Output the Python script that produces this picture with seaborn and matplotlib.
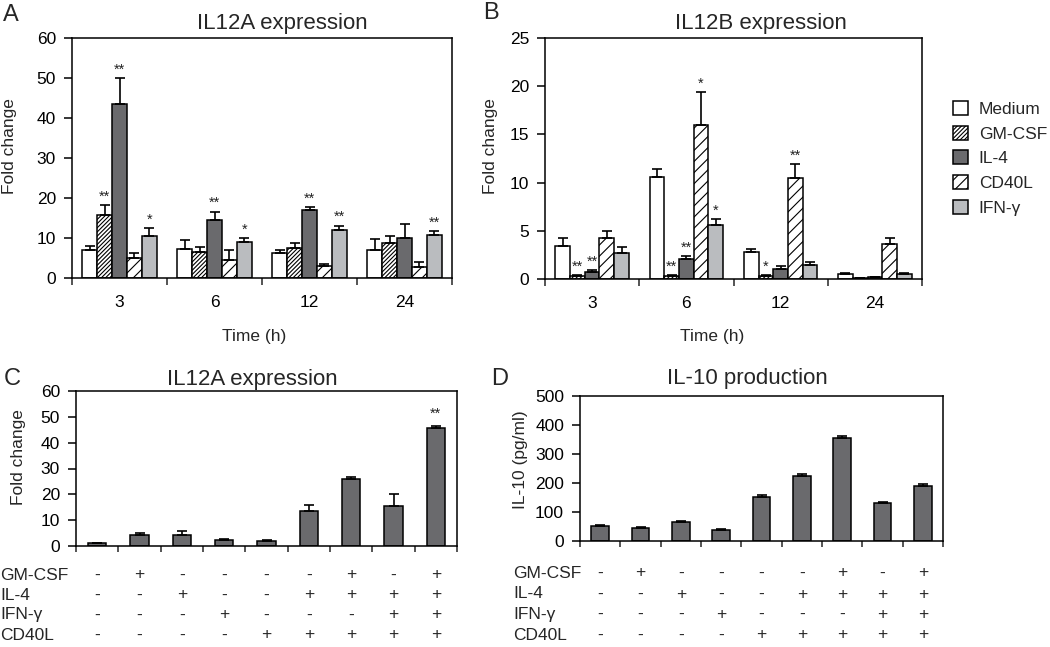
import numpy as np
import pandas as pd
import matplotlib
matplotlib.use("Agg")
import matplotlib.pyplot as plt
import seaborn as sns
from matplotlib.patches import Patch
from matplotlib.transforms import blended_transform_factory

# ---------------- data ----------------
treatments = ["Medium", "GM-CSF", "IL-4", "CD40L", "IFN-γ"]
times = ["3", "6", "12", "24"]

# Panel A: IL12A expression (one list per treatment, over time)
a_medium = [7.0, 7.2, 6.2, 7.1]
a_gmcsf = [15.8, 6.6, 7.4, 8.8]
a_il4 = [43.5, 14.4, 16.9, 10.0]
a_cd40l = [5.1, 4.6, 3.1, 2.7]
a_ifng = [10.4, 9.0, 12.0, 10.8]
a_err_medium = [1.0, 2.4, 0.8, 2.6]
a_err_gmcsf = [2.5, 1.2, 1.4, 1.8]
a_err_il4 = [6.5, 2.2, 0.8, 3.6]
a_err_cd40l = [1.1, 2.3, 0.4, 1.3]
a_err_ifng = [2.1, 1.0, 1.1, 0.9]
a_stars = {("GM-CSF", "3"): "**", ("IL-4", "3"): "**", ("IFN-γ", "3"): "*",
           ("IL-4", "6"): "**", ("IFN-γ", "6"): "*",
           ("IL-4", "12"): "**", ("IFN-γ", "12"): "**",
           ("IFN-γ", "24"): "**"}

# Panel B: IL12B expression
b_medium = [3.4, 10.6, 2.8, 0.5]
b_gmcsf = [0.35, 0.35, 0.35, 0.08]
b_il4 = [0.75, 2.1, 1.0, 0.2]
b_cd40l = [4.3, 16.0, 10.5, 3.6]
b_ifng = [2.7, 5.6, 1.5, 0.5]
b_err_medium = [0.9, 0.8, 0.35, 0.12]
b_err_gmcsf = [0.05, 0.05, 0.05, 0.02]
b_err_il4 = [0.15, 0.25, 0.3, 0.05]
b_err_cd40l = [0.7, 3.4, 1.4, 0.7]
b_err_ifng = [0.6, 0.6, 0.3, 0.12]
b_stars = {("GM-CSF", "3"): "**", ("IL-4", "3"): "**",
           ("GM-CSF", "6"): "**", ("IL-4", "6"): "**", ("CD40L", "6"): "*", ("IFN-γ", "6"): "*",
           ("GM-CSF", "12"): "*", ("CD40L", "12"): "**"}

# Panels C and D: stimulus combinations
conditions = ["c1", "c2", "c3", "c4", "c5", "c6", "c7", "c8", "c9"]
c_values = [1.0, 4.3, 4.4, 2.2, 1.9, 13.6, 25.9, 15.6, 45.5]
c_err = [0.3, 0.6, 1.3, 0.4, 0.5, 2.4, 1.0, 4.4, 0.8]
c_stars = ["", "", "", "", "", "", "", "", "**"]
d_values = [51, 45, 65, 37, 153, 224, 355, 131, 190]
d_err = [3, 5, 5, 3, 6, 8, 6, 3, 6]

row_labels = ["GM-CSF", "IL-4", "IFN-γ", "CD40L"]
row_gmcsf = ["-", "+", "-", "-", "-", "-", "+", "-", "+"]
row_il4 = ["-", "-", "+", "-", "-", "+", "+", "+", "+"]
row_ifng = ["-", "-", "-", "+", "-", "-", "-", "+", "+"]
row_cd40l = ["-", "-", "-", "-", "+", "+", "+", "+", "+"]

colors = {"Medium": "white", "GM-CSF": "white", "IL-4": "#6a6a6d",
          "CD40L": "white", "IFN-γ": "#babcbf"}
hatches = {"Medium": "", "GM-CSF": "////////", "IL-4": "", "CD40L": "///", "IFN-γ": ""}

# ---------------- style ----------------
sns.set_style("ticks")
plt.rcParams["font.family"] = ["Liberation Sans", "DejaVu Sans"]
plt.rcParams["hatch.linewidth"] = 0.8
plt.rcParams["axes.linewidth"] = 1.1

FS = 12.5
W, H = 1050, 647
fig = plt.figure(figsize=(W / 100, H / 100), dpi=100)


def px(x, y):
    return (x / W, 1 - y / H)


def add_ax(l, t, r, b):
    return fig.add_axes([l / W, 1 - b / H, (r - l) / W, (b - t) / H])


def style_axes(ax, ylim, yticks):
    ax.set_ylim(*ylim)
    ax.set_yticks(yticks)
    for s in ax.spines.values():
        s.set_visible(True)
        s.set_color("black")
        s.set_linewidth(1.1)
    ax.tick_params(axis="y", which="major", direction="out", length=5.5, width=1.1,
                   labelsize=FS, pad=6, colors="black")


def grouped_panel(ax, vals, errs, stars, ylim, yticks):
    rows = []
    for t, v in zip(treatments, vals):
        for tm, val in zip(times, v):
            rows.append({"time": tm, "treatment": t, "value": val})
    df = pd.DataFrame(rows)
    sns.barplot(data=df, x="time", y="value", hue="treatment", order=times,
                hue_order=treatments, palette=colors, edgecolor="black",
                linewidth=1.1, errorbar=None, width=0.78, saturation=1,
                legend=False, ax=ax)
    conts = list(ax.containers)
    for t, cont, err in zip(treatments, conts, errs):
        xs, tops = [], []
        for bar in cont:
            bar.set_hatch(hatches[t])
            xs.append(bar.get_x() + bar.get_width() / 2)
            tops.append(bar.get_height())
        ax.errorbar(xs, tops, yerr=[np.zeros(len(err)), err], fmt="none",
                    ecolor="black", elinewidth=1.2, capsize=3.5, capthick=1.2, zorder=1)
        for x, top, e, tm in zip(xs, tops, err, times):
            s = stars.get((t, tm))
            if s:
                ax.annotate(s, (x, top + e), xytext=(0, 1), textcoords="offset points",
                            ha="center", va="bottom", fontsize=10.5, color="#222222")
    style_axes(ax, ylim, yticks)
    n = len(times)
    ax.set_xlim(-0.5, n - 0.5)
    ax.set_xticks(np.arange(-0.5, n, 1.0))
    ax.set_xticklabels([])
    ax.set_xticks(np.arange(n), minor=True)
    ax.set_xticklabels(times, minor=True)
    ax.tick_params(axis="x", which="major", direction="out", length=5, width=1.1)
    ax.tick_params(axis="x", which="minor", length=0, labelsize=FS, pad=12, colors="black")
    ax.set_xlabel("Time (h)", fontsize=FS)
    ax.set_ylabel("Fold change", fontsize=FS)


def combo_panel(ax, vals, errs, stars, ylim, yticks, ylabel):
    df = pd.DataFrame({"cond": conditions, "value": vals})
    sns.barplot(data=df, x="cond", y="value", order=conditions, color="#6a6a6d",
                edgecolor="black", linewidth=1.1, errorbar=None, width=0.43,
                saturation=1, ax=ax)
    bars = ax.containers[0]
    xs = [b.get_x() + b.get_width() / 2 for b in bars]
    tops = [b.get_height() for b in bars]
    ax.errorbar(xs, tops, yerr=[np.zeros(len(errs)), errs], fmt="none",
                ecolor="black", elinewidth=1.2, capsize=3.5, capthick=1.2, zorder=1)
    for x, top, e, s in zip(xs, tops, errs, stars):
        if s:
            ax.annotate(s, (x, top + e), xytext=(0, 4), textcoords="offset points",
                        ha="center", va="bottom", fontsize=10.5, color="#222222")
    style_axes(ax, ylim, yticks)
    n = len(conditions)
    ax.set_xlim(-0.5, n - 0.5)
    ax.set_xticks(np.arange(-0.5, n, 1.0))
    ax.set_xticklabels([])
    ax.tick_params(axis="x", which="major", direction="out", length=4, width=1.1)
    ax.set_xlabel("")
    ax.set_ylabel(ylabel, fontsize=FS)


def place_labels(ax, l, t, r, b, ylab_right, ylab_cy, xlab_cx=None, xlab_top=None):
    w, h = r - l, b - t
    ax.yaxis.set_label_coords((ylab_right - l) / w, (b - ylab_cy) / h)
    if xlab_cx is not None:
        ax.xaxis.set_label_coords((xlab_cx - l) / w, (b - xlab_top) / h)


# ---------------- panel A ----------------
A = (72, 38, 452, 278)
axA = add_ax(*A)
grouped_panel(axA, [a_medium, a_gmcsf, a_il4, a_cd40l, a_ifng],
              [a_err_medium, a_err_gmcsf, a_err_il4, a_err_cd40l, a_err_ifng],
              a_stars, (0, 60), range(0, 61, 10))
place_labels(axA, *A, 17, 146, 254, 329)
fig.text(*px(197, 29), "IL12A expression", ha="left", va="baseline", fontsize=16)
fig.text(*px(3, 21), "A", ha="left", va="baseline", fontsize=17)

# ---------------- panel B ----------------
B = (545, 38, 922, 279)
axB = add_ax(*B)
grouped_panel(axB, [b_medium, b_gmcsf, b_il4, b_cd40l, b_ifng],
              [b_err_medium, b_err_gmcsf, b_err_il4, b_err_cd40l, b_err_ifng],
              b_stars, (0, 25), range(0, 26, 5))
place_labels(axB, *B, 498, 146, 712, 329)
fig.text(*px(675, 29), "IL12B expression", ha="left", va="baseline", fontsize=16)
fig.text(*px(483, 19), "B", ha="left", va="baseline", fontsize=17)

handles = [Patch(facecolor=colors[t], edgecolor="black", hatch=hatches[t],
                 linewidth=1.1) for t in treatments]
fig.legend(handles, treatments, loc="upper left", bbox_to_anchor=px(953, 101),
           frameon=False, fontsize=FS, handlelength=0.86, handleheight=0.86,
           handletextpad=0.63, labelspacing=0.5, borderpad=0, borderaxespad=0)

# ---------------- panel C ----------------
C = (76, 391, 457, 546)
axC = add_ax(*C)
combo_panel(axC, c_values, c_err, c_stars, (0, 60), range(0, 61, 10), "Fold change")
place_labels(axC, *C, 26, 457)
fig.text(*px(167, 385), "IL12A expression", ha="left", va="baseline", fontsize=16)
fig.text(*px(4, 385), "C", ha="left", va="baseline", fontsize=17)

# ---------------- panel D ----------------
D = (580, 396, 943, 541)
axD = add_ax(*D)
combo_panel(axD, d_values, d_err, [""] * 9, (0, 500), range(0, 501, 100), "IL-10 (pg/ml)")
place_labels(axD, *D, 528, 460)
fig.text(*px(667, 384), "IL-10 production", ha="left", va="baseline", fontsize=16)
fig.text(*px(491, 385), "D", ha="left", va="baseline", fontsize=17)

# ---------------- +/- tables ----------------
rows_pm = [row_gmcsf, row_il4, row_ifng, row_cd40l]
for ax, xlab, ys in [(axC, 0, [575, 595, 615, 635]), (axD, 513, [573, 594, 614, 635])]:
    tr = blended_transform_factory(ax.transData, fig.transFigure)
    for lab, row, y in zip(row_labels, rows_pm, ys):
        fig.text(*px(xlab, y), lab, ha="left", va="center", fontsize=12.5)
        for i, s in enumerate(row):
            ax.text(i, 1 - y / H, s, transform=tr, ha="center", va="center",
                    fontsize=12.5, clip_on=False)

fig.savefig("out.png", dpi=100)
